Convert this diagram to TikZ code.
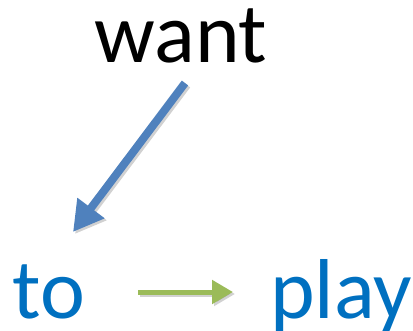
\documentclass[tikz,border=0pt]{standalone}
\usepackage{fontspec}
\setmainfont{Carlito}
\usetikzlibrary{arrows.meta,calc}

\definecolor{wordblue}{HTML}{0070C0}
\definecolor{arrowblue}{HTML}{4F81BD}
\definecolor{arrowgreen}{HTML}{9BBB59}

\tikzset{
  word/.style={anchor=base, inner sep=0pt, font=\fontsize{85}{90}\selectfont},
  bluearrow/.style={arrowblue, line width=8pt, -{Triangle[length=30pt,width=32pt]}},
  greenarrow/.style={arrowgreen, line width=5pt, -{Triangle[length=21pt,width=23pt]}},
  shade/.style={black, opacity=0.18}
}

\begin{document}
\begin{tikzpicture}[x=1pt, y=-1pt]
        % Frame (keeps the margins)
        \useasboundingbox (0,0) rectangle (413,330);

        % Words
        \node[word] (want) at (181,62) {want};
        \node[word, wordblue] (to) at (49,318) {to};
        \node[word, wordblue] (play) at (341,318) {play};

        % Shadows
        \draw[bluearrow, shade] ($(want.base)+(6,23)$) -- ($(to.base)+(26,-84)$);
        \draw[greenarrow, shade] ($(to.base)+(91,-24)$) -- ($(play.base)+(-106,-24)$);

        % Arrows
        \draw[bluearrow] ($(want.base)+(4,21)$) -- ($(to.base)+(24,-86)$);
        \draw[greenarrow] ($(to.base)+(89,-26)$) -- ($(play.base)+(-108,-26)$);

      \end{tikzpicture}
\end{document}
